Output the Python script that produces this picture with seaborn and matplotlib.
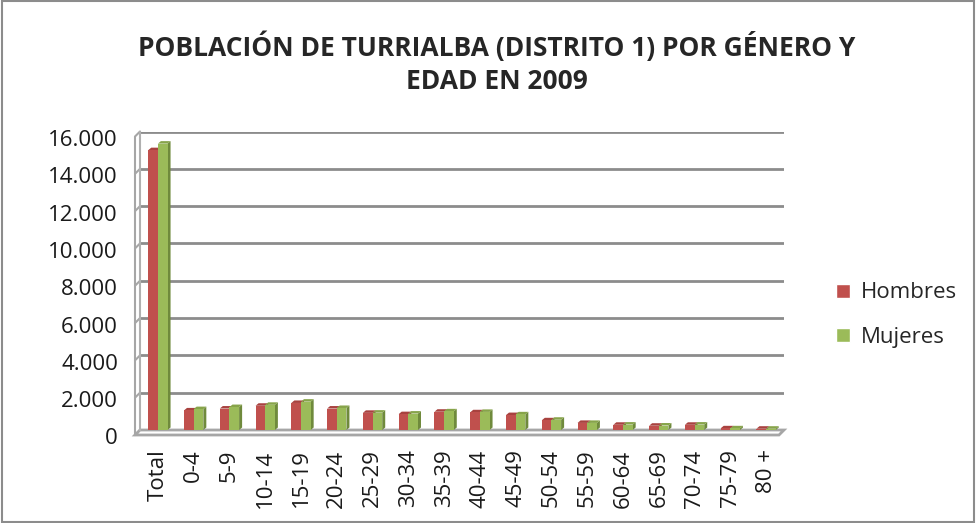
import matplotlib.pyplot as plt
import matplotlib.ticker as mticker
from matplotlib.patches import Polygon
from matplotlib.transforms import offset_copy
import pandas as pd
import seaborn as sns

sns.set_theme(style="white")
plt.rcParams["font.family"] = ["Open Sans", "DejaVu Sans"]

# Age groups and population per gender
edades = ["Total", "0-4", "5-9", "10-14", "15-19", "20-24", "25-29", "30-34", "35-39",
          "40-44", "45-49", "50-54", "55-59", "60-64", "65-69", "70-74", "75-79", "80 +"]
hombres = [15000, 1050, 1150, 1300, 1450, 1150, 920, 850, 980,
           950, 800, 520, 380, 280, 230, 280, 90, 70]
mujeres = [15350, 1120, 1230, 1350, 1520, 1180, 930, 880, 1000,
           970, 840, 550, 380, 290, 240, 290, 90, 70]

df = pd.DataFrame({"Edad": edades * 2,
                   "Poblacion": hombres + mujeres,
                   "Genero": ["Hombres"] * len(edades) + ["Mujeres"] * len(edades)})

colores = {"Hombres": "#C0504D", "Mujeres": "#9BBB59"}
lados = ["#8E3836", "#6F8A3C"]   # darker side faces for the 3D look
techos = ["#A8423F", "#87A44A"]

W, H, DPI = 9.76, 5.23, 100
fig = plt.figure(figsize=(W, H), dpi=DPI)
# axes = back plane of the 3D box
ax = fig.add_axes([140 / 976, 1 - 430 / 523, 644 / 976, 298.5 / 523])

sns.barplot(data=df, x="Edad", y="Poblacion", hue="Genero", palette=colores,
            width=0.54, saturation=1, ax=ax, legend=True)

ax.set_ylim(0, 16000)
ax.set_xlim(-0.5, len(edades) - 0.5)

# side and top faces of each column
px_x = (len(edades)) / 644.0          # data units per pixel (x)
px_y = 16000 / 298.5                  # data units per pixel (y)
ddx, ddy = 3 * px_x, 2.5 * px_y
for k, (container, lado, techo) in enumerate(zip(ax.containers, lados, techos)):
    for bar in container:
        x0 = bar.get_x()
        x1 = x0 + bar.get_width()
        h = bar.get_height()
        bar.set_zorder(3 + 2 * k)
        bar.set_linewidth(0)
        ax.add_patch(Polygon([(x1, 0), (x1, h), (x1 + ddx, h + ddy), (x1 + ddx, ddy)],
                             closed=True, facecolor=lado, edgecolor="none", zorder=2.9 + 2 * k))
        ax.add_patch(Polygon([(x0, h), (x1, h), (x1 + ddx, h + ddy), (x0 + ddx, h + ddy)],
                             closed=True, facecolor=techo, edgecolor="none", zorder=2.9 + 2 * k))

# grid on the back wall
ax.yaxis.set_major_locator(mticker.MultipleLocator(2000))
ax.yaxis.grid(True, color="#8C8C8C", linewidth=2)
ax.set_axisbelow(True)
for side in ["top", "right", "bottom"]:
    ax.spines[side].set_visible(False)
ax.spines["left"].set_color("#B0B0B0")
ax.spines["left"].set_linewidth(1.5)
ax.tick_params(axis="y", length=0, labelleft=False)

# front edge of the left wall and floor (offset 5 px down-left)
off_x = -5 / 644.0
off_y = -5 / 298.5
gris = "#A6A6A6"
ax.plot([off_x, off_x], [off_y, 1 + off_y], transform=ax.transAxes, color=gris,
        lw=1.5, clip_on=False, zorder=1)
for v in range(0, 16001, 2000):
    yf = v / 16000
    ax.plot([0, off_x], [yf, yf + off_y], transform=ax.transAxes, color=gris,
            lw=1.5, clip_on=False, zorder=1)
    lab = f"{v:,}".replace(",", ".")
    ax.text(0, v, lab, transform=offset_copy(ax.get_yaxis_transform(), fig=fig, x=-22, y=-9, units="dots"),
            ha="right", va="center", fontsize=16, color="#1a1a1a")
ax.add_patch(Polygon([(off_x, off_y), (1 + off_x, off_y), (1, 0), (0, 0)], closed=True,
                     transform=ax.transAxes, facecolor="white", edgecolor=gris, lw=2,
                     clip_on=False, zorder=2))

ax.set_xlabel("")
ax.set_ylabel("")
ax.tick_params(axis="x", length=0, labelrotation=90, labelsize=16, colors="#1a1a1a", pad=14)

ax.legend(loc="center left", bbox_to_anchor=(1.05, 0.385), frameon=False,
          fontsize=16, handlelength=0.6, handleheight=0.6, handletextpad=0.5,
          labelspacing=1.05)

fig.text(0.509, 0.879, "POBLACIÓN DE TURRIALBA (DISTRITO 1) POR GÉNERO Y\nEDAD EN 2009",
         ha="center", va="center", fontsize=19, fontweight="bold", linespacing=1.3)

# outer chart border
fig.patches.append(plt.Rectangle((0.002, 0.002), 0.996, 0.996, transform=fig.transFigure,
                                 fill=False, edgecolor="#8C8C8C", linewidth=1.5))

fig.savefig("out.png", dpi=DPI)
